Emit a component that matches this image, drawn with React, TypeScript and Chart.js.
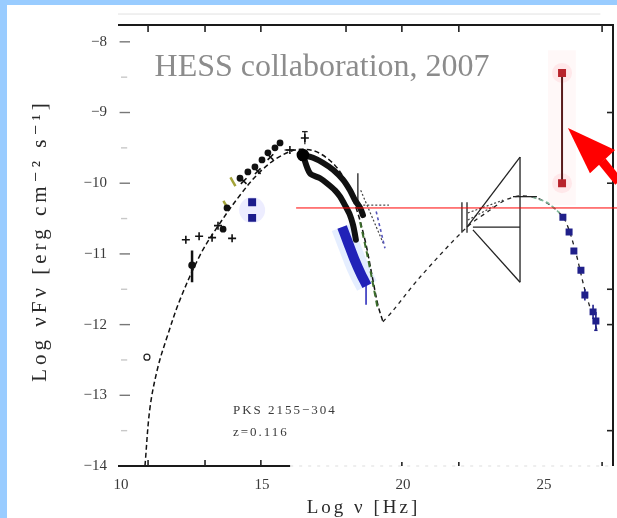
import React, { useEffect, useRef } from "react";
import { Chart, registerables } from "chart.js";

Chart.register(...registerables);

const SERIF = "'Liberation Serif', 'Times New Roman', 'DejaVu Serif', serif";

// axis ranges and ticks
const X_MIN = 9.894;
const X_MAX = 27.447;
const Y_MIN = -14;
const Y_MAX = -7.762;
const xTicks = [10, 15, 20, 25];
const yTicks = [-14, -13, -12, -11, -10, -9, -8];
const topTickMarks = [10.96, 12.98, 14.96, 17.98, 19.96, 21.98, 27.06];
const bottomTickMarks = [10.96, 12.98, 14.96];
const bottomFaintTicks = [19.96, 21.98, 27.06];
const rightTickMarks = [-9, -10, -11.5, -12, -13.5];

// models (log nu, log nuFnu)
const synchModel = [
  [10.85, -14], [11.03, -13.17], [11.31, -12.6], [11.63, -12.18], [12.09, -11.65],
  [12.8, -11.02], [13.4, -10.63], [14.22, -10.17], [14.93, -9.84], [15.64, -9.62],
  [16.35, -9.52], [17.06, -9.58], [17.77, -9.84], [18.3, -10.31], [18.65, -10.8],
  [18.9, -11.3], [19.11, -11.72], [19.29, -11.96],
];
const icModel = [
  [19.29, -11.96], [19.65, -11.8], [20.6, -11.33], [22.27, -10.62], [23.09, -10.38],
  [23.62, -10.24], [24.15, -10.18], [24.75, -10.21], [25.32, -10.34], [25.74, -10.52],
  [26.1, -10.94], [26.45, -11.51], [26.88, -12.08],
];
const icColoured = [[24.6, -10.2], [25.1, -10.27], [25.55, -10.42]];

// optical / IR data
const optCross = [[12.3, -10.8], [12.77, -10.75], [13.23, -10.77], [13.94, -10.78], [13.44, -10.6], [15.99, -9.53], [16.52, -9.36]];
const optDots = [[13.62, -10.65], [13.76, -10.35], [14.22, -9.93], [14.5, -9.84], [14.75, -9.77], [15.0, -9.67], [15.21, -9.57], [15.46, -9.5], [15.64, -9.43]];
const optX = [[14.35, -9.97], [14.85, -9.83], [15.3, -9.63]];
const optYellow = [[13.97, -9.98], [13.72, -10.31]];
const optErr = [[12.52, -10.95], [12.52, -11.4]];
const optBig = [[12.52, -11.16]];
const blueOpt = [[14.65, -10.27], [14.65, -10.49]];
const openCircle = [[10.92, -12.46]];

// X-ray spectra
const xrayUpper = [[16.45, -9.6], [16.81, -9.64], [17.16, -9.71], [17.52, -9.81], [17.87, -9.95], [18.12, -10.1], [18.3, -10.24], [18.48, -10.35], [18.58, -10.45]];
const xrayLower = [[16.45, -9.6], [16.7, -9.86], [17.06, -9.93], [17.3, -10.0], [17.59, -10.1], [17.77, -10.19], [17.94, -10.31], [18.12, -10.45], [18.23, -10.59], [18.3, -10.73], [18.33, -10.8]];
const xrayPeak = [[16.45, -9.6]];
const blueBand = [[17.84, -10.62], [18.05, -10.84], [18.3, -11.1], [18.5, -11.28], [18.72, -11.45]];
const blueTail = [[18.69, -11.4], [18.69, -11.72]];
const greenDash = [[18.48, -10.55], [18.7, -10.95], [18.9, -11.35], [19.11, -11.79]];
const purpleDash = [[19.05, -10.4], [19.36, -10.92]];

// bow-ties and bars
const solidSegments = [
  [[24.15, -9.63], [24.15, -11.4]],
  [[22.27, -10.62], [24.15, -9.63]],
  [[22.48, -10.66], [24.15, -11.4]],
  [[22.48, -10.62], [24.15, -10.62]],
  [[23.9, -10.19], [24.75, -10.19]],
  [[22.09, -10.27], [22.09, -10.7]],
  [[22.27, -10.27], [22.27, -10.7]],
  [[18.4, -9.86], [18.4, -10.34]],
  [[16.52, -9.27], [16.52, -9.45]],
  [[16.42, -9.27], [16.62, -9.27]],
  [[15.8, -9.53], [16.2, -9.53]],
];
const dottedSegments = [
  [[22.3, -10.42], [23.55, -10.24]],
  [[22.3, -10.52], [23.2, -10.33]],
  [[18.45, -10.31], [19.5, -10.31]],
  [[18.5, -10.1], [19.3, -10.85]],
];

// TeV data
const tevPoints = [[25.67, -10.48], [25.89, -10.69], [26.06, -10.96], [26.31, -11.23], [26.45, -11.58], [26.74, -11.82], [26.84, -11.95]];
const tevErrors = [
  [[26.45, -11.5], [26.45, -11.66]],
  [[26.74, -11.72], [26.74, -11.92]],
  [[26.84, -11.82], [26.84, -12.08]],
  [[26.78, -12.08], [26.9, -12.08]],
];

// highlighted range
const redBar = [[25.64, -8.44], [25.64, -10.0]];
const redLineY = -10.35;
const redLineX = [16.21, 27.6];
const arrowTip = [25.85, -9.22];
const arrowCorners = [[26.63, -9.86], [27.52, -9.53]];
const arrowShaft = [[27.06, -9.69], [27.65, -9.98]];

const P = (a: number[][]) => a.map(([x, y]) => ({ x, y }));

const lineDs = (data: number[][], color: string, width: number, dash: number[] = [], extra: any = {}) => ({
  data: P(data), showLine: true, borderColor: color, borderWidth: width, borderDash: dash,
  pointRadius: 0, fill: false, tension: 0, ...extra,
});
const ptDs = (data: number[][], style: string, radius: number, color: string, extra: any = {}) => ({
  data: P(data), showLine: false, pointStyle: style, pointRadius: radius,
  backgroundColor: color, borderColor: color, borderWidth: 1.6, ...extra,
});

export default function App() {
  const ref = useRef<HTMLCanvasElement>(null);

  useEffect(() => {
    document.body.style.margin = "0";
    const datasets: any[] = [
      ptDs(redBar, "rect", 4.5, "#b8242c"),
      lineDs(redBar, "#5a1c1c", 2),
      ptDs(tevPoints, "rect", 3.8, "#20208a"),
      ...tevErrors.map((s) => lineDs(s, "#20208a", 1.6)),
      ptDs(blueOpt, "rect", 4.5, "#1c1c8c"),
      ptDs(xrayPeak, "circle", 5.5, "#000"),
      lineDs(xrayUpper, "#111", 6, [], { borderCapStyle: "round", borderJoinStyle: "round", tension: 0.3 }),
      lineDs(xrayLower, "#111", 6, [], { borderCapStyle: "round", borderJoinStyle: "round", tension: 0.3 }),
      lineDs(blueBand, "#2222b8", 10, [], { tension: 0.3 }),
      lineDs(blueTail, "#2222b8", 1.5),
      lineDs(greenDash, "#3c6e2c", 2, [6, 4], { tension: 0.3 }),
      lineDs(purpleDash, "#5555bb", 1.6, [3, 3]),
      ptDs(optCross, "cross", 4, "#111"),
      ptDs(optDots, "circle", 2.6, "#111"),
      ptDs(optX, "crossRot", 4, "#111"),
      ptDs(optYellow, "line", 5, "#a4a43a", { rotation: 60, borderWidth: 2.5 }),
      lineDs(optErr, "#111", 2.5),
      ptDs(optBig, "circle", 3, "#111"),
      ptDs(openCircle, "circle", 3, "#fff", { borderColor: "#222", borderWidth: 1.2 }),
      ...solidSegments.map((s) => lineDs(s, "#222", 1.3)),
      ...dottedSegments.map((s) => lineDs(s, "#444", 1.2, [2, 2])),
      lineDs(icColoured, "#7fb89a", 1.6, [4, 3], { tension: 0.3 }),
      lineDs(synchModel, "#111", 1.5, [5, 3], { tension: 0.35 }),
      lineDs(icModel, "#222", 1.3, [4, 4], { tension: 0.3 }),
      // soft halos (drawn underneath)
      lineDs(blueBand, "rgba(170,200,255,0.3)", 22, [], { tension: 0.3 }),
      ptDs([[14.65, -10.38]], "circle", 13, "rgba(190,190,255,0.28)", { borderWidth: 0 }),
      ptDs(redBar, "circle", 10, "rgba(255,160,170,0.18)", { borderWidth: 0 }),
    ];

    const decor = {
      id: "decor",
      beforeDraw(chart: any) {
        const { ctx, width, height } = chart;
        ctx.save();
        ctx.fillStyle = "#ffffff";
        ctx.fillRect(0, 0, width, height);
        ctx.fillStyle = "#99ccff";
        ctx.fillRect(0, 0, 7, height);
        ctx.fillRect(0, 0, width, 5);
        ctx.restore();
      },
      beforeDatasetsDraw(chart: any) {
        const { ctx } = chart;
        const X = (v: number) => chart.scales.x.getPixelForValue(v);
        const Y = (v: number) => chart.scales.y.getPixelForValue(v);
        ctx.save();
        ctx.fillStyle = "rgba(255,200,200,0.12)";
        ctx.fillRect(X(25.14), Y(-8.12), X(26.13) - X(25.14), Y(-10.31) - Y(-8.12));
        ctx.restore();
      },
      afterDraw(chart: any) {
        const { ctx, chartArea: ca } = chart;
        const X = (v: number) => chart.scales.x.getPixelForValue(v);
        const Y = (v: number) => chart.scales.y.getPixelForValue(v);
        ctx.save();
        // faint line above the frame
        ctx.strokeStyle = "#e2e2e2";
        ctx.lineWidth = 1;
        ctx.beginPath();
        ctx.moveTo(X(X_MIN), Y(-7.607));
        ctx.lineTo(X(27.0), Y(-7.607));
        ctx.stroke();
        // frame: top and right
        ctx.strokeStyle = "#1a1a1a";
        ctx.lineWidth = 2;
        ctx.beginPath();
        ctx.moveTo(ca.left, ca.top);
        ctx.lineTo(ca.right, ca.top);
        ctx.lineTo(ca.right, ca.bottom);
        ctx.stroke();
        // bottom axis (visible part)
        ctx.beginPath();
        ctx.moveTo(X(X_MIN), ca.bottom);
        ctx.lineTo(X(16.0), ca.bottom);
        ctx.stroke();
        ctx.strokeStyle = "#dddddd";
        ctx.lineWidth = 1;
        ctx.setLineDash([3, 6]);
        ctx.beginPath();
        ctx.moveTo(X(16.0), ca.bottom);
        ctx.lineTo(ca.right, ca.bottom);
        ctx.stroke();
        ctx.setLineDash([]);
        // tick marks
        ctx.strokeStyle = "#222";
        ctx.lineWidth = 1.6;
        topTickMarks.forEach((v) => {
          ctx.beginPath();
          ctx.moveTo(X(v), ca.top);
          ctx.lineTo(X(v), ca.top + 7);
          ctx.stroke();
        });
        bottomTickMarks.forEach((v) => {
          ctx.beginPath();
          ctx.moveTo(X(v), ca.bottom);
          ctx.lineTo(X(v), ca.bottom - 6);
          ctx.stroke();
        });
        bottomFaintTicks.forEach((v) => {
          ctx.beginPath();
          ctx.moveTo(X(v), ca.bottom);
          ctx.lineTo(X(v), ca.bottom - 4);
          ctx.stroke();
        });
        rightTickMarks.forEach((v) => {
          ctx.beginPath();
          ctx.moveTo(ca.right, Y(v));
          ctx.lineTo(ca.right - 6, Y(v));
          ctx.stroke();
        });
        ctx.strokeStyle = "#777";
        ctx.lineWidth = 1.4;
        yTicks.slice(1).forEach((v) => {
          ctx.beginPath();
          ctx.moveTo(X(9.95), Y(v));
          ctx.lineTo(X(10.32), Y(v));
          ctx.stroke();
        });
        ctx.strokeStyle = "#c8c8c8";
        yTicks.slice(1).forEach((v) => {
          ctx.beginPath();
          ctx.moveTo(X(10.0), Y(v - 0.5));
          ctx.lineTo(X(10.22), Y(v - 0.5));
          ctx.stroke();
        });
        // red reference line
        ctx.strokeStyle = "#ff0000";
        ctx.lineWidth = 1;
        ctx.beginPath();
        ctx.moveTo(X(redLineX[0]), Y(redLineY));
        ctx.lineTo(X(redLineX[1]), Y(redLineY));
        ctx.stroke();
        // red arrow
        ctx.fillStyle = "#ff0000";
        ctx.strokeStyle = "#ff0000";
        ctx.beginPath();
        ctx.moveTo(X(arrowTip[0]), Y(arrowTip[1]));
        ctx.lineTo(X(arrowCorners[0][0]), Y(arrowCorners[0][1]));
        ctx.lineTo(X(arrowCorners[1][0]), Y(arrowCorners[1][1]));
        ctx.closePath();
        ctx.fill();
        ctx.lineWidth = 9;
        ctx.beginPath();
        ctx.moveTo(X(arrowShaft[0][0]), Y(arrowShaft[0][1]));
        ctx.lineTo(X(arrowShaft[1][0]), Y(arrowShaft[1][1]));
        ctx.stroke();
        // texts
        ctx.fillStyle = "#8c8c8c";
        ctx.font = `32px ${SERIF}`;
        ctx.textAlign = "center";
        ctx.textBaseline = "alphabetic";
        ctx.fillText("HESS collaboration, 2007", X(17.13), Y(-8.484));
        ctx.fillStyle = "#3a3a3a";
        ctx.font = `13px ${SERIF}`;
        ctx.textAlign = "left";
        ctx.textBaseline = "middle";
        (ctx as any).letterSpacing = "2px";
        ctx.fillText("PKS 2155\u2212304", X(13.97), Y(-13.21));
        ctx.fillText("z=0.116", X(13.97), Y(-13.53));
        // axis titles
        ctx.fillStyle = "#2a2a2a";
        ctx.font = `19px ${SERIF}`;
        (ctx as any).letterSpacing = "3px";
        ctx.textAlign = "center";
        ctx.textBaseline = "middle";
        ctx.fillText("Log \u03bd [Hz]", X(18.6), 508);
        ctx.translate(40, (ca.top + ca.bottom) / 2 - 5);
        ctx.rotate(-Math.PI / 2);
        ctx.font = `21px ${SERIF}`;
        (ctx as any).letterSpacing = "4px";
        ctx.fillText("Log \u03bdF\u03bd [erg cm\u207b\u00b2 s\u207b\u00b9]", 0, 0);
        ctx.restore();
      },
    };

    const chart = new Chart(ref.current!, {
      type: "scatter",
      data: { datasets },
      options: {
        responsive: false,
        animation: false,
        devicePixelRatio: 1,
        layout: { autoPadding: false, padding: { top: 25, right: 4, left: 0, bottom: 0 } },
        plugins: { legend: { display: false }, tooltip: { enabled: false } },
        scales: {
          x: {
            type: "linear",
            min: X_MIN,
            max: X_MAX,
            grid: { display: false, drawTicks: false },
            border: { display: false },
            afterBuildTicks: (s: any) => { s.ticks = xTicks.map((v) => ({ value: v })); },
            afterFit: (s: any) => { s.height = 52; },
            ticks: {
              autoSkip: false, maxRotation: 0, padding: 10, color: "#3a3a3a",
              font: { family: SERIF, size: 15 },
              callback: (v: any) => String(v),
            },
          },
          y: {
            type: "linear",
            min: Y_MIN,
            max: Y_MAX,
            grid: { display: false, drawTicks: false },
            border: { display: false },
            afterBuildTicks: (s: any) => { s.ticks = yTicks.map((v) => ({ value: v })); },
            afterFit: (s: any) => { s.width = 118; },
            ticks: {
              autoSkip: false, padding: 11, color: "#3a3a3a",
              font: { family: SERIF, size: 15 },
              callback: (v: any) => "\u2212" + Math.abs(Number(v)),
            },
          },
        },
      } as any,
      plugins: [decor],
    } as any);
    return () => chart.destroy();
  }, []);

  return (
    <div style={{ width: 617, height: 518 }}>
      <canvas ref={ref} width={617} height={518} style={{ display: "block" }} />
    </div>
  );
}
